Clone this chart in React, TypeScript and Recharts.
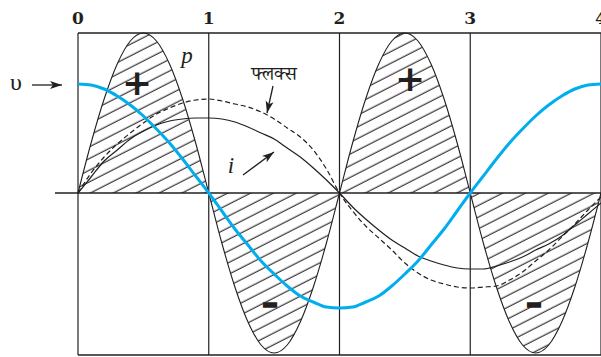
import React from "react";
import { ComposedChart, Line, Area, XAxis, YAxis, ReferenceLine } from "recharts";

const xs = [0, 0.1, 0.2, 0.3, 0.4, 0.5, 0.6, 0.7, 0.8, 0.9, 1, 1.1, 1.2, 1.3, 1.4, 1.5, 1.6, 1.7, 1.8, 1.9, 2, 2.1, 2.2, 2.3, 2.4, 2.5, 2.6, 2.7, 2.8, 2.9, 3, 3.1, 3.2, 3.3, 3.4, 3.5, 3.6, 3.7, 3.8, 3.9, 4];
const pValues = [0, 50, 94, 129, 152, 160, 152, 129, 94, 50, 0, -50, -94, -129, -152, -160, -152, -129, -94, -50, 0, 50, 94, 129, 152, 160, 152, 129, 94, 50, 0, -50, -94, -129, -152, -160, -152, -129, -94, -50, 0];
const vValues = [109, 108, 104, 97, 88, 77, 64, 50, 34, 17, 0, -18, -36, -52, -68, -81, -93, -103, -109, -114, -115, -114, -109, -103, -93, -81, -68, -52, -36, -18, 0, 17, 34, 50, 64, 77, 88, 97, 104, 108, 109];
const iValues = [0, 16, 32, 43, 54, 62, 68, 72, 74, 75, 75, 74, 71, 66, 60, 54, 45, 36, 25, 13, 0, -14, -26, -37, -47, -55, -63, -68, -72, -75, -76, -76, -73, -69, -64, -57, -51, -43, -32, -21, -10];
const fluxValues = [0, 20, 36, 49, 60, 70, 79, 85, 90, 93, 94, 92, 89, 86, 81, 74, 65, 56, 43, 24, 0, -18, -33, -45, -57, -70, -80, -87, -91, -94, -95, -94, -93, -87, -79, -68, -57, -44, -31, -17, -4];
const tickValues = [0, 1, 2, 3, 4];
const tickLabels = ["0", "1", "2", "3", "4"];

const data = xs.map((x, k) => ({ x, p: pValues[k], v: vValues[k], i: iValues[k], flux: fluxValues[k] }));

const INK = "#231f20";
const BLUE = "#00aeef";

const TopTick = (props: any) => {
  const { x, payload } = props;
  const idx = tickValues.indexOf(payload.value);
  return (
    <text x={x} y={24} textAnchor="middle" fontFamily="'DejaVu Serif', serif" fontWeight="bold" fontSize={17} fill={INK}>
      {tickLabels[idx]}
    </text>
  );
};

export default function App() {
  return (
    <div style={{ position: "absolute", left: 0, top: 0, width: 601, height: 357, overflow: "hidden", background: "#fff" }}>
      <ComposedChart width={601} height={357} data={data} margin={{ top: 3, right: 0, bottom: 2, left: 78 }}>
        <defs>
          <pattern id="hatch" patternUnits="userSpaceOnUse" width={10} height={10.4} patternTransform="rotate(-27)">
            <line x1={-1} y1={5} x2={11} y2={5} stroke={INK} strokeWidth={1.1} />
          </pattern>
          <marker id="arr" markerUnits="userSpaceOnUse" markerWidth={13} markerHeight={10} refX={12} refY={5} orient="auto">
            <path d="M0,1 L12,5 L0,9 L3,5 z" fill={INK} />
          </marker>
        </defs>
        <XAxis dataKey="x" type="number" orientation="top" domain={[0, 4]} ticks={tickValues} axisLine={false} tickLine={false} height={30} tick={<TopTick />} interval={0} />
        <YAxis type="number" domain={[-162, 160]} hide width={0} />
        <Area type="monotone" dataKey="p" baseValue={0} stroke={INK} strokeWidth={1.1} fill="url(#hatch)" fillOpacity={1} isAnimationActive={false} dot={false} activeDot={false} />
        <ReferenceLine y={160} stroke={INK} strokeWidth={1.3} />
        <ReferenceLine y={-162} stroke={INK} strokeWidth={1.3} />
        {tickValues.map((t) => (
          <ReferenceLine key={t} x={t} stroke={INK} strokeWidth={1.2} />
        ))}
        <ReferenceLine segment={[{ x: -0.176, y: 0 }, { x: 4, y: 0 }]} ifOverflow="visible" stroke={INK} strokeWidth={1.3} />
        <Line type="monotone" dataKey="i" stroke={INK} strokeWidth={1.2} dot={false} activeDot={false} isAnimationActive={false} />
        <Line type="monotone" dataKey="flux" stroke={INK} strokeWidth={1.2} strokeDasharray="5 3" dot={false} activeDot={false} isAnimationActive={false} />
        <Line type="monotone" dataKey="v" stroke={BLUE} strokeWidth={3} dot={false} activeDot={false} isAnimationActive={false} />

        <text x={16} y={90} textAnchor="middle" fontFamily="'Liberation Serif', serif" fontSize={24} fill={INK}>υ</text>
        <line x1={32} y1={85} x2={62} y2={85} stroke={INK} strokeWidth={1.3} markerEnd="url(#arr)" />
        <text x={187} y={63} textAnchor="middle" fontFamily="'Liberation Serif', serif" fontStyle="italic" fontSize={23} fill={INK}>p</text>
        <text x={274} y={80} textAnchor="middle" fontFamily="'Noto Serif Devanagari', 'Noto Sans Devanagari', 'Lohit Devanagari', 'FreeSerif', sans-serif" fontSize={19} fill={INK}>फ्लक्स</text>
        <line x1={273} y1={86} x2={267} y2={113} stroke={INK} strokeWidth={1.3} markerEnd="url(#arr)" />
        <text x={231} y={173} textAnchor="middle" fontFamily="'Liberation Serif', serif" fontStyle="italic" fontSize={23} fill={INK}>i</text>
        <line x1={243} y1={175} x2={274} y2={152} stroke={INK} strokeWidth={1.3} markerEnd="url(#arr)" />
        <text x={137} y={95} textAnchor="middle" fontFamily="'DejaVu Sans', sans-serif" fontWeight="bold" fontSize={36} fill={INK}>+</text>
        <text x={410} y={91} textAnchor="middle" fontFamily="'DejaVu Sans', sans-serif" fontWeight="bold" fontSize={36} fill={INK}>+</text>
        <text x={270} y={314} textAnchor="middle" fontFamily="'DejaVu Sans', sans-serif" fontWeight="bold" fontSize={32} fill={INK} stroke={INK} strokeWidth={1.6}>–</text>
        <text x={534} y={314} textAnchor="middle" fontFamily="'DejaVu Sans', sans-serif" fontWeight="bold" fontSize={32} fill={INK} stroke={INK} strokeWidth={1.6}>–</text>
      </ComposedChart>
    </div>
  );
}
